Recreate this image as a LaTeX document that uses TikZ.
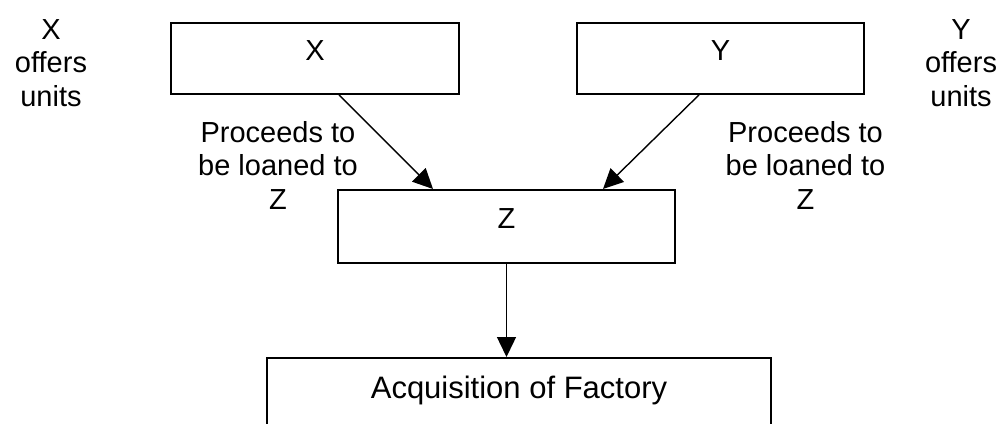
\documentclass[tikz,border=0pt]{standalone}
\usepackage{fontspec}
\setmainfont{Liberation Sans}
\usetikzlibrary{arrows.meta}
\tikzset{
  txt/.style={font=\fontsize{29}{33.5}\selectfont},
  boxnode/.style={draw, line width=1.9pt, inner xsep=0pt, inner ysep=18pt,
    text height=20pt, text depth=15pt, anchor=north, txt},
  lbl/.style={align=center, anchor=base, inner sep=0pt, txt},
  conn/.style={line width=1.4pt, -{Triangle[length=20pt,width=19pt]}}
}
\begin{document}
\begin{tikzpicture}[x=1pt,y=-1pt]
\useasboundingbox (0,0) rectangle (1003,423);
\fill[white] (0,0) rectangle (1003,423);
\clip (0,0) rectangle (1003,423);
\node[boxnode, minimum width=288pt] (X) at (315,22) {X};
\node[boxnode, minimum width=287pt] (Y) at (720.5,22) {Y};
\node[boxnode, minimum width=337pt, text height=21pt, text depth=16pt] (Z) at (506.5,189) {Z};
\node[boxnode, minimum width=504pt, inner ysep=19pt, text height=22pt, text depth=80pt,
  font=\fontsize{31}{33.5}\selectfont] (A) at (519,357) {Acquisition of Factory};
\node[lbl] (xo) at (51,106) {X\\offers\\units};
\node[lbl] (yo) at (961,106) {Y\\offers\\units};
\node[lbl] (lp) at (278,209) {Proceeds to\\be loaned to\\Z};
\node[lbl] (rp) at (805.5,209) {Proceeds to\\be loaned to\\Z};
\draw[conn] ([xshift=24pt]X.south) -- ([xshift=-73.5pt]Z.north);
\draw[conn] ([xshift=-21.5pt]Y.south) -- ([xshift=96.5pt]Z.north);
\draw[conn] (Z.south) -- (A.north -| Z.south);
\end{tikzpicture}
\end{document}
